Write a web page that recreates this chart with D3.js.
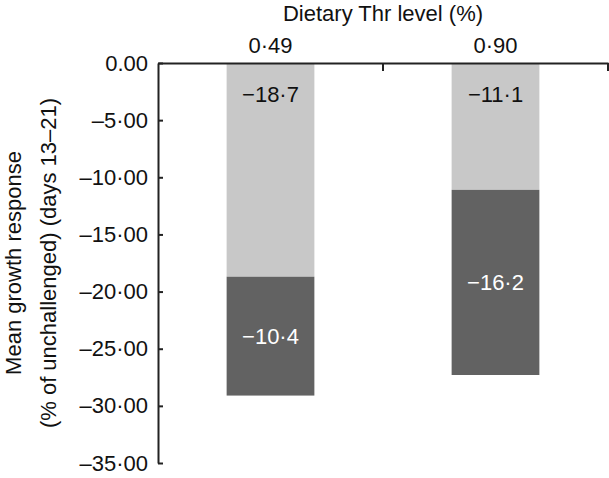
<!DOCTYPE html>
<html>
<head>
<meta charset="utf-8">
<script src="https://cdn.jsdelivr.net/npm/d3@7"></script>
<style>
  body { margin: 0; background: #fff; }
  text { font-family: "Liberation Sans", Arial, Helvetica, sans-serif; }
  .axis path, .axis line { stroke: #222; stroke-width: 2; }
</style>
</head>
<body>
<div class="chart"></div>
<script>
// data
const levels = ["0·49", "0·90"];
const lightVals = [-18.7, -11.1];
const darkVals = [-10.4, -16.2];
const yTicks = [0, -5, -10, -15, -20, -25, -30, -35];
const yTickLabels = ["0.00", "–5·00", "–10·00", "–15·00", "–20·00", "–25·00", "–30·00", "–35·00"];

const fs = 22;

// margin convention
const margin = ({top: 63, right: 1, bottom: 15, left: 158});
const w = 609 - margin.left - margin.right;
const h = 478 - margin.top - margin.bottom;

var svg = d3.select(".chart")
    .append("svg")
    .attr("width", w + margin.left + margin.right)
    .attr("height", h + margin.top + margin.bottom)
    .append("g")
    .attr("transform", "translate(" + margin.left + "," + margin.top + ")");

var xScale = d3.scaleBand()
    .domain(levels)
    .range([0, w]);

var yScale = d3.scaleLinear()
    .domain([0, -35])
    .range([0, h]);

const fmt = v => d3.format(".1f")(v).replace("-", "–").replace(".", "·");

// stacked segments
var rows = levels.map((l, i) => ({
    level: l,
    light: lightVals[i],
    dark: darkVals[i],
    mid: lightVals[i],
    end: lightVals[i] + darkVals[i]
}));

const barW = xScale.bandwidth() * 0.39;
const cx = d => xScale(d.level) + xScale.bandwidth() / 2;

svg.selectAll(".light")
    .data(rows)
    .join("rect")
    .attr("class", "light")
    .attr("x", d => cx(d) - barW / 2)
    .attr("width", barW)
    .attr("y", yScale(0))
    .attr("height", d => yScale(d.mid) - yScale(0))
    .attr("fill", "#c8c8c8");

svg.selectAll(".dark")
    .data(rows)
    .join("rect")
    .attr("class", "dark")
    .attr("x", d => cx(d) - barW / 2)
    .attr("width", barW)
    .attr("y", d => yScale(d.mid))
    .attr("height", d => yScale(d.end) - yScale(d.mid))
    .attr("fill", "#626262");

// segment labels
svg.selectAll(".lightLabel")
    .data(rows)
    .join("text")
    .attr("x", cx)
    .attr("y", yScale(0) + 39)
    .attr("text-anchor", "middle")
    .attr("font-size", fs)
    .attr("fill", "#111")
    .text(d => fmt(d.light));

svg.selectAll(".darkLabel")
    .data(rows)
    .join("text")
    .attr("x", cx)
    .attr("y", d => (yScale(d.mid) + yScale(d.end)) / 2 + 8)
    .attr("text-anchor", "middle")
    .attr("font-size", fs)
    .attr("fill", "#fff")
    .text(d => fmt(d.dark));

// axes
var yAxis = d3.axisLeft(yScale)
    .tickValues(yTicks)
    .tickSize(-5)
    .tickSizeOuter(0)
    .tickPadding(10)
    .tickFormat((d, i) => yTickLabels[i]);

svg.append("g")
    .attr("class", "axis y-axis")
    .call(yAxis)
    .call(g => g.selectAll("text").attr("font-size", fs).attr("fill", "#111"));

// top axis: line with ticks at band edges, labels at band centres
svg.append("g")
    .attr("class", "axis x-axis")
    .call(d3.axisTop(xScale).tickSize(0).tickSizeOuter(0).tickPadding(10))
    .call(g => g.selectAll("text").attr("font-size", fs).attr("fill", "#111"));

svg.selectAll(".bandEdge")
    .data(levels)
    .join("line")
    .attr("class", "bandEdge")
    .attr("x1", d => xScale(d) + xScale.bandwidth())
    .attr("x2", d => xScale(d) + xScale.bandwidth())
    .attr("y1", 0)
    .attr("y2", 8)
    .attr("stroke", "#222")
    .attr("stroke-width", 2);

// titles
svg.append("text")
    .attr("x", w / 2)
    .attr("y", -42)
    .attr("text-anchor", "middle")
    .attr("font-size", fs)
    .attr("fill", "#111")
    .text("Dietary Thr level (%)");

var yl = svg.append("text")
    .attr("transform", "translate(" + (-margin.left + 21) + "," + yScale(-17.5) + ") rotate(-90)")
    .attr("text-anchor", "middle")
    .attr("font-size", fs)
    .attr("fill", "#111");
yl.append("tspan").attr("x", 0).attr("dy", 0).text("Mean growth response");
yl.append("tspan").attr("x", 0).attr("dy", 35).text("(% of unchallenged) (days 13–21)");
</script>
</body>
</html>
